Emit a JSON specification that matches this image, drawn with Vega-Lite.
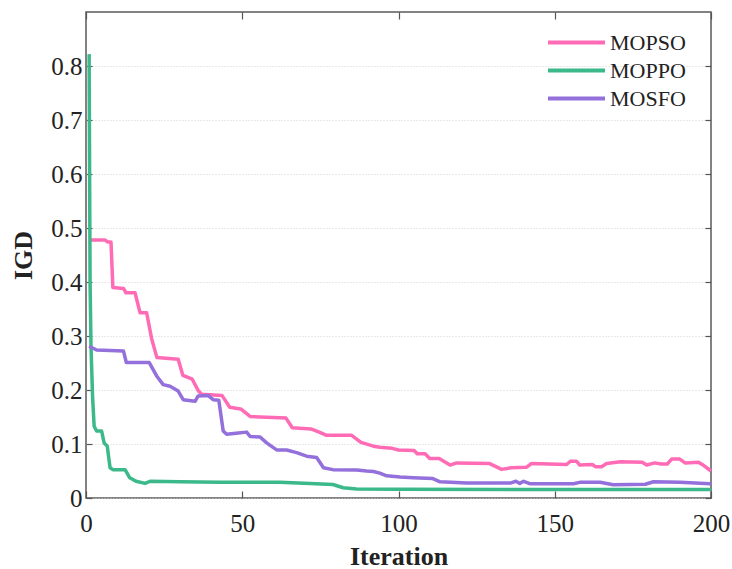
{
  "$schema": "https://vega.github.io/schema/vega-lite/v6.json",
  "width": 625,
  "height": 486,
  "autosize": {"type": "none"},
  "padding": {"left": 86, "top": 12, "right": 21, "bottom": 71},
  "background": "white",
  "config": {
    "font": "Liberation Serif",
    "view": {"stroke": "#5a5a5a", "strokeWidth": 1.5},
    "axis": {"labelFont": "Liberation Serif", "titleFont": "Liberation Serif", "labelColor": "#222", "titleColor": "#222", "domain": false, "tickColor": "#555", "tickWidth": 1.2},
    "legend": {"labelFont": "Liberation Serif"}
  },
  "data": {"values": [
    {"it": 1, "v": 0.478, "s": "MOPSO"},
    {"it": 6, "v": 0.478, "s": "MOPSO"},
    {"it": 7, "v": 0.474, "s": "MOPSO"},
    {"it": 8, "v": 0.474, "s": "MOPSO"},
    {"it": 8.6, "v": 0.39, "s": "MOPSO"},
    {"it": 12, "v": 0.388, "s": "MOPSO"},
    {"it": 12.8, "v": 0.38, "s": "MOPSO"},
    {"it": 15.7, "v": 0.38, "s": "MOPSO"},
    {"it": 17.3, "v": 0.343, "s": "MOPSO"},
    {"it": 19.4, "v": 0.343, "s": "MOPSO"},
    {"it": 21, "v": 0.295, "s": "MOPSO"},
    {"it": 22.7, "v": 0.26, "s": "MOPSO"},
    {"it": 29.5, "v": 0.257, "s": "MOPSO"},
    {"it": 31, "v": 0.227, "s": "MOPSO"},
    {"it": 34, "v": 0.22, "s": "MOPSO"},
    {"it": 36, "v": 0.198, "s": "MOPSO"},
    {"it": 37, "v": 0.192, "s": "MOPSO"},
    {"it": 43.5, "v": 0.19, "s": "MOPSO"},
    {"it": 46, "v": 0.168, "s": "MOPSO"},
    {"it": 49.5, "v": 0.165, "s": "MOPSO"},
    {"it": 52.5, "v": 0.151, "s": "MOPSO"},
    {"it": 64, "v": 0.148, "s": "MOPSO"},
    {"it": 66, "v": 0.13, "s": "MOPSO"},
    {"it": 72, "v": 0.128, "s": "MOPSO"},
    {"it": 75, "v": 0.121, "s": "MOPSO"},
    {"it": 77, "v": 0.116, "s": "MOPSO"},
    {"it": 85, "v": 0.116, "s": "MOPSO"},
    {"it": 88, "v": 0.103, "s": "MOPSO"},
    {"it": 92, "v": 0.096, "s": "MOPSO"},
    {"it": 94, "v": 0.094, "s": "MOPSO"},
    {"it": 98, "v": 0.092, "s": "MOPSO"},
    {"it": 100, "v": 0.089, "s": "MOPSO"},
    {"it": 105, "v": 0.088, "s": "MOPSO"},
    {"it": 106, "v": 0.082, "s": "MOPSO"},
    {"it": 108.5, "v": 0.082, "s": "MOPSO"},
    {"it": 110, "v": 0.073, "s": "MOPSO"},
    {"it": 113, "v": 0.073, "s": "MOPSO"},
    {"it": 116.5, "v": 0.061, "s": "MOPSO"},
    {"it": 118.6, "v": 0.065, "s": "MOPSO"},
    {"it": 129, "v": 0.064, "s": "MOPSO"},
    {"it": 133, "v": 0.053, "s": "MOPSO"},
    {"it": 136, "v": 0.056, "s": "MOPSO"},
    {"it": 141, "v": 0.057, "s": "MOPSO"},
    {"it": 142.6, "v": 0.064, "s": "MOPSO"},
    {"it": 153.8, "v": 0.062, "s": "MOPSO"},
    {"it": 155, "v": 0.068, "s": "MOPSO"},
    {"it": 157, "v": 0.068, "s": "MOPSO"},
    {"it": 158, "v": 0.061, "s": "MOPSO"},
    {"it": 162, "v": 0.062, "s": "MOPSO"},
    {"it": 163, "v": 0.058, "s": "MOPSO"},
    {"it": 165, "v": 0.058, "s": "MOPSO"},
    {"it": 166.6, "v": 0.064, "s": "MOPSO"},
    {"it": 171, "v": 0.067, "s": "MOPSO"},
    {"it": 178, "v": 0.066, "s": "MOPSO"},
    {"it": 179.4, "v": 0.061, "s": "MOPSO"},
    {"it": 182, "v": 0.065, "s": "MOPSO"},
    {"it": 184, "v": 0.063, "s": "MOPSO"},
    {"it": 186, "v": 0.063, "s": "MOPSO"},
    {"it": 187.4, "v": 0.072, "s": "MOPSO"},
    {"it": 190, "v": 0.072, "s": "MOPSO"},
    {"it": 191.7, "v": 0.065, "s": "MOPSO"},
    {"it": 196, "v": 0.066, "s": "MOPSO"},
    {"it": 197.5, "v": 0.061, "s": "MOPSO"},
    {"it": 200, "v": 0.05, "s": "MOPSO"},

    {"it": 1, "v": 0.822, "s": "MOPPO"},
    {"it": 1.3, "v": 0.4, "s": "MOPPO"},
    {"it": 1.6, "v": 0.28, "s": "MOPPO"},
    {"it": 2.1, "v": 0.188, "s": "MOPPO"},
    {"it": 2.6, "v": 0.133, "s": "MOPPO"},
    {"it": 3.4, "v": 0.124, "s": "MOPPO"},
    {"it": 5, "v": 0.124, "s": "MOPPO"},
    {"it": 5.8, "v": 0.102, "s": "MOPPO"},
    {"it": 6.8, "v": 0.096, "s": "MOPPO"},
    {"it": 7.7, "v": 0.056, "s": "MOPPO"},
    {"it": 8.6, "v": 0.0525, "s": "MOPPO"},
    {"it": 12.5, "v": 0.0525, "s": "MOPPO"},
    {"it": 14, "v": 0.0374, "s": "MOPPO"},
    {"it": 16, "v": 0.031, "s": "MOPPO"},
    {"it": 18.9, "v": 0.027, "s": "MOPPO"},
    {"it": 20.5, "v": 0.031, "s": "MOPPO"},
    {"it": 30, "v": 0.03, "s": "MOPPO"},
    {"it": 43, "v": 0.029, "s": "MOPPO"},
    {"it": 62, "v": 0.029, "s": "MOPPO"},
    {"it": 71.7, "v": 0.027, "s": "MOPPO"},
    {"it": 79, "v": 0.025, "s": "MOPPO"},
    {"it": 82.3, "v": 0.019, "s": "MOPPO"},
    {"it": 86.6, "v": 0.0165, "s": "MOPPO"},
    {"it": 100, "v": 0.016, "s": "MOPPO"},
    {"it": 200, "v": 0.0157, "s": "MOPPO"},

    {"it": 1, "v": 0.281, "s": "MOSFO"},
    {"it": 3.4, "v": 0.274, "s": "MOSFO"},
    {"it": 12, "v": 0.272, "s": "MOSFO"},
    {"it": 12.9, "v": 0.251, "s": "MOSFO"},
    {"it": 20.2, "v": 0.251, "s": "MOSFO"},
    {"it": 22.6, "v": 0.226, "s": "MOSFO"},
    {"it": 24.7, "v": 0.21, "s": "MOSFO"},
    {"it": 26.9, "v": 0.207, "s": "MOSFO"},
    {"it": 29.5, "v": 0.198, "s": "MOSFO"},
    {"it": 31.1, "v": 0.182, "s": "MOSFO"},
    {"it": 34.9, "v": 0.179, "s": "MOSFO"},
    {"it": 35.9, "v": 0.189, "s": "MOSFO"},
    {"it": 39, "v": 0.19, "s": "MOSFO"},
    {"it": 40.7, "v": 0.182, "s": "MOSFO"},
    {"it": 42.5, "v": 0.181, "s": "MOSFO"},
    {"it": 43.9, "v": 0.124, "s": "MOSFO"},
    {"it": 45, "v": 0.118, "s": "MOSFO"},
    {"it": 48, "v": 0.12, "s": "MOSFO"},
    {"it": 51.4, "v": 0.122, "s": "MOSFO"},
    {"it": 52.5, "v": 0.114, "s": "MOSFO"},
    {"it": 55.7, "v": 0.113, "s": "MOSFO"},
    {"it": 57.8, "v": 0.102, "s": "MOSFO"},
    {"it": 61, "v": 0.089, "s": "MOSFO"},
    {"it": 64.2, "v": 0.089, "s": "MOSFO"},
    {"it": 67.4, "v": 0.084, "s": "MOSFO"},
    {"it": 70.6, "v": 0.0775, "s": "MOSFO"},
    {"it": 73.8, "v": 0.075, "s": "MOSFO"},
    {"it": 76, "v": 0.056, "s": "MOSFO"},
    {"it": 79, "v": 0.0525, "s": "MOSFO"},
    {"it": 86.6, "v": 0.052, "s": "MOSFO"},
    {"it": 89.8, "v": 0.05, "s": "MOSFO"},
    {"it": 92, "v": 0.049, "s": "MOSFO"},
    {"it": 94, "v": 0.046, "s": "MOSFO"},
    {"it": 96.2, "v": 0.041, "s": "MOSFO"},
    {"it": 100.5, "v": 0.039, "s": "MOSFO"},
    {"it": 104.7, "v": 0.0376, "s": "MOSFO"},
    {"it": 111, "v": 0.036, "s": "MOSFO"},
    {"it": 113.3, "v": 0.03, "s": "MOSFO"},
    {"it": 121.8, "v": 0.028, "s": "MOSFO"},
    {"it": 136, "v": 0.028, "s": "MOSFO"},
    {"it": 137.6, "v": 0.031, "s": "MOSFO"},
    {"it": 138.8, "v": 0.027, "s": "MOSFO"},
    {"it": 140, "v": 0.031, "s": "MOSFO"},
    {"it": 142, "v": 0.0265, "s": "MOSFO"},
    {"it": 156, "v": 0.0265, "s": "MOSFO"},
    {"it": 158, "v": 0.029, "s": "MOSFO"},
    {"it": 164.5, "v": 0.029, "s": "MOSFO"},
    {"it": 168.7, "v": 0.0245, "s": "MOSFO"},
    {"it": 179, "v": 0.0255, "s": "MOSFO"},
    {"it": 181.6, "v": 0.03, "s": "MOSFO"},
    {"it": 190, "v": 0.029, "s": "MOSFO"},
    {"it": 199.7, "v": 0.0265, "s": "MOSFO"},
    {"it": 200, "v": 0.025, "s": "MOSFO"}
  ]},
  "resolve": {"axis": {"x": "independent", "y": "independent"}},
  "layer": [
    {
      "mark": {"type": "line", "strokeWidth": 3.5, "strokeJoin": "round"},
      "encoding": {
        "x": {
          "field": "it", "type": "quantitative",
          "scale": {"domain": [0, 200], "nice": false, "zero": false},
          "axis": {
            "orient": "bottom", "values": [0, 50, 100, 150, 200], "grid": false,
            "tickSize": -7, "labelPadding": 20, "labelFontSize": 25, "labelFlush": false,
            "labelFont": "Liberation Serif",
            "title": "Iteration", "titleFontSize": 26, "titleFontWeight": "bold",
            "titleBaseline": "alphabetic", "titleY": 66
          }
        },
        "y": {
          "field": "v", "type": "quantitative",
          "scale": {"domain": [0, 0.9], "nice": false},
          "axis": {
            "orient": "left", "values": [0, 0.1, 0.2, 0.3, 0.4, 0.5, 0.6, 0.7, 0.8],
            "labelExpr": "datum.value == 0 ? '0' : format(datum.value, '.1f')",
            "grid": true, "gridColor": "#d2d2d2", "gridDash": [1, 2], "gridWidth": 1,
            "tickSize": -6, "labelPadding": 10, "labelFontSize": 25, "labelFlush": false,
            "labelFont": "Liberation Serif",
            "title": "IGD", "titleFontSize": 26, "titleFontWeight": "bold",
            "titleAngle": -90, "titleBaseline": "middle", "titleX": -63
          }
        },
        "color": {
          "field": "s", "type": "nominal",
          "scale": {"domain": ["MOPSO", "MOPPO", "MOSFO"], "range": ["#ff6cb5", "#3cb98a", "#9370db"]},
          "legend": {
            "title": null, "orient": "none", "legendX": 479, "legendY": 19,
            "symbolType": "M-3,0H3", "symbolSize": 361, "symbolStrokeWidth": 4,
            "labelFontSize": 22, "labelFont": "Liberation Serif", "labelColor": "#222",
            "labelOffset": 22, "rowPadding": 5
          }
        }
      }
    },
    {
      "mark": {"type": "line", "opacity": 0},
      "encoding": {
        "x": {
          "field": "it", "type": "quantitative",
          "axis": {"orient": "top", "values": [0, 50, 100, 150, 200], "labels": false, "title": null, "grid": false, "tickSize": -7}
        },
        "y": {
          "field": "v", "type": "quantitative",
          "axis": {"orient": "right", "values": [0, 0.1, 0.2, 0.3, 0.4, 0.5, 0.6, 0.7, 0.8], "labels": false, "title": null, "grid": false, "tickSize": -6}
        }
      }
    }
  ]
}
